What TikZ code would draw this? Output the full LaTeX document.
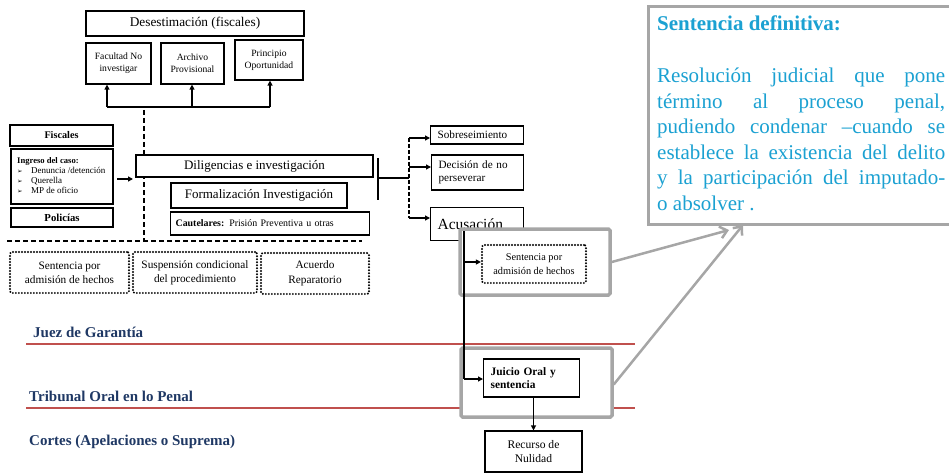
\documentclass[tikz,border=0pt]{standalone}
\usepackage{fontspec}
\setmainfont{Liberation Serif}
\newfontfamily\symfont{DejaVu Sans}
\usetikzlibrary{arrows.meta}
\definecolor{navy}{HTML}{1F3864}
\definecolor{redline}{HTML}{C0504D}
\definecolor{cyantext}{HTML}{1BA1D2}
\definecolor{grayb}{HTML}{A6A6A6}
\newcommand{\fs}[2]{\fontsize{#1}{#2}\selectfont}
\newcommand{\arrbul}{{\symfont\fontsize{6.5}{9}\selectfont ➢}}
\tikzset{
  box/.style={draw=black, line width=1.2pt, fill=white, inner sep=1pt, align=center},
  lbox/.style={draw=black, line width=1.2pt, fill=white, inner ysep=1pt, inner xsep=7pt, align=left},
  dotbox/.style={draw=black, line width=2.2pt, line cap=round, dash pattern=on 0pt off 3pt, rounded corners=2pt, fill=white, inner sep=1pt, align=center},
  graybox/.style={draw=grayb, line width=3.5pt, fill=white, rounded corners=1.5pt},
  conn/.style={line width=1.2pt, -{Triangle[length=5pt,width=5pt]}},
  plain/.style={line width=1.2pt},
  dashline/.style={line width=1.4pt, dash pattern=on 5pt off 3pt},
  grayarrow/.style={draw=grayb, line width=2.5pt, -{Straight Barb[length=7pt,width=12pt,line width=2.5pt]}},
  lvl/.style={text=navy, font=\bfseries\fs{15}{17}, anchor=west, inner sep=0pt}
}
\begin{document}
\begin{tikzpicture}[x=1pt,y=-1pt]
\useasboundingbox (0,0) rectangle (949,473);
% red level lines
\draw[redline, line width=1.2pt] (26,344) -- (635,344);
\draw[redline, line width=1.2pt] (26,408) -- (635,408);
% level labels
\node[lvl] (juez) at (33,332) {Juez de Garantía};
\node[lvl] (trib) at (29,396) {Tribunal Oral en lo Penal};
\node[lvl] (cort) at (29,442) {Cortes (Apelaciones o Suprema)};
% dashed lines
\coordinate (dtop) at (144,110);
\coordinate (dbot) at (144,241);
\coordinate (hl) at (7,241);
\coordinate (hr) at (362,241);
\draw[dashline] (dtop) -- (dbot);
\draw[dashline] (hl) -- (hr);
% Desestimacion
\node[box, minimum width=218pt, minimum height=25pt, font=\fs{13.3}{15}] (des) at (195,23.5) {Desestimación (fiscales)};
\node[box, minimum width=65pt, minimum height=41pt, font=\fs{9.6}{11.7}] (fac) at (118.5,63.5) {Facultad No\\investigar};
\node[box, minimum width=63pt, minimum height=41pt, font=\fs{9.6}{11.7}] (arc) at (192.5,63.5) {Archivo\\Provisional};
\node[box, minimum width=68pt, minimum height=40pt, font=\fs{9.6}{11.7}] (pri) at (269,60) {Principio\\Oportunidad};
\coordinate (b1) at (107,107);
\coordinate (b2) at (192,107);
\coordinate (b3) at (270,107);
\draw[plain] (b1) -- (b3);
\draw[conn] (b1) -- (b1 |- fac.south);
\draw[conn] (b2) -- (b2 |- arc.south);
\draw[conn] (b3) -- (b3 |- pri.south);
% left column
\node[box, minimum width=103pt, minimum height=21pt, font=\bfseries\fs{10.2}{12}] (fis) at (61.5,135.5) {Fiscales};
\node[draw=black, line width=1.2pt, fill=white, minimum width=102pt, minimum height=55pt] (ing) at (62,176.5) {};
\node[anchor=base west, inner sep=0pt] (ingt) at (17,164) {\parbox[t]{94pt}{\fs{9}{10}%
{\bfseries\fs{8.6}{10}Ingreso del caso:}\\
\arrbul\hspace{8.5pt}Denuncia /detención\\
\arrbul\hspace{8.5pt}Querella\\
\arrbul\hspace{8.5pt}MP de oficio}};
\node[box, minimum width=102pt, minimum height=19pt, font=\bfseries\fs{10.7}{12}] (pol) at (62,217.5) {Policías};
% central column
\node[box, minimum width=237pt, minimum height=22pt, font=\fs{13}{15}] (dil) at (254.5,166) {Diligencias e investigación};
\node[box, minimum width=176pt, minimum height=25pt, font=\fs{13}{15}] (for) at (259,195.5) {Formalización Investigación};
\node[lbox, text width=189pt, minimum height=23pt, inner xsep=5pt, anchor=west, font=\fs{9.9}{12}] (cau) at (170,223.5) {\textbf{Cautelares:} Prisión Preventiva u otras};
\coordinate (ia) at (117,179);
\coordinate (ib) at (133,179);
\draw[conn] (ia) -- (ib);
% bar and branches
\coordinate (vt) at (378,158);
\coordinate (vb) at (378,200);
\coordinate (vm) at (378,178);
\coordinate (vj) at (409,178);
\coordinate (vdt) at (409,138);
\coordinate (vdb) at (409,218);
\coordinate (vdm) at (409,167);
\draw[plain] (vt) -- (vb);
\draw[plain] (vm) -- (vj);
\draw[line width=1.2pt, dash pattern=on 4pt off 2pt] (vdt) -- (vdb);
\node[lbox, text width=79pt, minimum height=18pt, anchor=west, font=\fs{11.2}{13}] (sob) at (430,135) {Sobreseimiento};
\node[lbox, text width=78pt, minimum height=35pt, anchor=west, font=\fs{11.2}{13.5}] (dec) at (431,172.5) {Decisión de no\\perseverar};
\node[lbox, text width=79pt, minimum height=33pt, anchor=north west, font=\fs{15.5}{17}] (acu) at (430,207) {Acusación};
\draw[conn] (vdt) -- (vdt -| sob.west);
\draw[conn] (vdm) -- (vdm -| dec.west);
\draw[conn] (vdb) -- (vdb -| acu.west);
% bottom-left dotted boxes
\node[dotbox, minimum width=119pt, minimum height=41pt, font=\fs{11.3}{14}] (sah) at (69.5,272.5) {Sentencia por\\admisión de hechos};
\node[dotbox, minimum width=124pt, minimum height=41pt, font=\fs{11.3}{14}] (sus) at (195,272.5) {Suspensión condicional\\del procedimiento};
\node[dotbox, minimum width=108pt, minimum height=41pt, font=\fs{11.3}{15}] (acr) at (315,273.5) {Acuerdo\\Reparatorio};
% gray boxes
\node[graybox, minimum width=150pt, minimum height=66pt] (g1) at (535,262) {};
\node[graybox, minimum width=151pt, minimum height=69pt] (g2) at (536.5,382.5) {};
\node[dotbox, minimum width=104pt, minimum height=38pt, font=\fs{10.3}{13.3}] (sah2) at (534,264) {Sentencia por\\admisión de hechos};
\node[lbox, text width=82pt, minimum height=38pt, anchor=west, font=\bfseries\fs{11.4}{13.3}] (jui) at (483,378) {Juicio Oral y\\sentencia};
\node[box, minimum width=97pt, minimum height=41pt, font=\fs{11.6}{14.5}] (rec) at (533.5,451.5) {Recurso de\\Nulidad};
\coordinate (lt) at (464,231);
\coordinate (lm) at (464,262);
\coordinate (lb) at (464,379);
\draw[plain] (lt) -- (lb);
\draw[conn] (lm) -- (lm -| sah2.west);
\draw[conn] (lb) -- (lb -| jui.west);
\draw[conn] (jui.south -| rec.north) -- (rec.north);
% definition box
\node[draw=grayb, line width=3pt, fill=white, minimum width=310pt, minimum height=217pt, anchor=north west] (def) at (647,5.5) {};
\node[anchor=base west, inner sep=0pt, text=cyantext, font=\bfseries\fs{21}{25.5}] (deftitle) at (657,31) {Sentencia definitiva:};
\node[anchor=base west, inner sep=0pt, text=cyantext, font=\fs{21}{25.5}] (deftxt) at (657,83) {\parbox[t]{288pt}{\fs{21}{25.5}%
\makebox[288pt][s]{Resolución judicial que pone}\\
\makebox[288pt][s]{término al proceso penal,}\\
\makebox[288pt][s]{pudiendo condenar –cuando se}\\
\makebox[288pt][s]{establece la existencia del delito}\\
\makebox[288pt][s]{y la participación del imputado-}\\
o absolver .}};
\coordinate (a1) at (729,230);
\coordinate (a2) at (743,225);
\draw[grayarrow] (g1.east) -- (a1);
\draw[grayarrow] ([yshift=-2pt]g2.east) -- (a2);
\end{tikzpicture}
\end{document}
